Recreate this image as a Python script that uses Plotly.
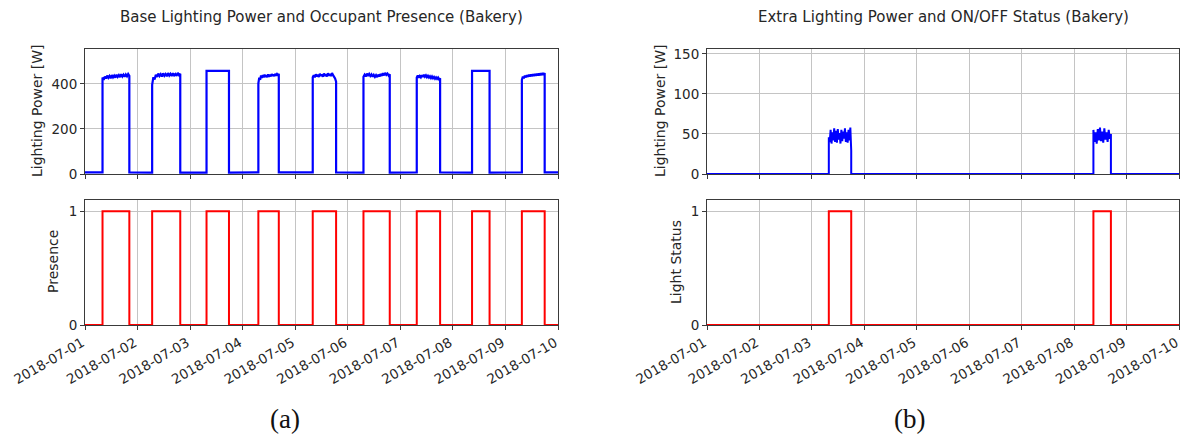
import pandas as pd
import plotly.graph_objects as go

# ---------------- data ----------------
day_labels = ["2018-07-01", "2018-07-02", "2018-07-03", "2018-07-04", "2018-07-05",
              "2018-07-06", "2018-07-07", "2018-07-08", "2018-07-09", "2018-07-10"]
days = day_labels[:9]

# base lighting / presence on-off times per day
base_on = ["08:00", "06:40", "07:30", "07:10", "08:00", "07:10", "07:30", "08:45", "07:30"]
base_off = ["20:15", "19:30", "17:45", "16:30", "18:40", "19:10", "18:10", "16:45", "17:55"]
base_idle_w = [7, 6, 6, 7, 7, 6, 7, 6, 7]
base_on_w = [
    [428, 418, 432, 424, 437, 427, 435, 425, 439, 429, 437, 428, 441, 431, 439, 430, 443, 433, 441, 432, 442, 434, 444, 436],
    [396, 430, 420, 441, 431, 446, 435, 443, 433, 447, 436, 444, 434, 448, 437, 445, 435, 447, 438, 444, 436, 449, 439, 445],
    [458, 458],
    [403, 428, 418, 437, 427, 439, 429, 441, 431, 438, 430, 442, 432, 441, 433, 444, 435, 442, 434, 445, 436, 443, 437, 445],
    [430, 439, 429, 443, 433, 441, 431, 445, 435, 442, 432, 446, 436, 443, 433, 447, 437, 444, 435, 448, 439, 432, 424, 410],
    [432, 441, 433, 446, 436, 444, 435, 442, 432, 440, 431, 439, 430, 441, 433, 444, 436, 447, 438, 449, 440, 446, 437, 443],
    [428, 437, 428, 435, 429, 439, 431, 441, 432, 438, 430, 436, 428, 434, 426, 433, 425, 431, 423, 429, 422, 428, 420, 425],
    [458, 458],
    [418, 432, 425, 437, 429, 439, 431, 441, 433, 442, 434, 443, 435, 444, 436, 445, 437, 446, 438, 447, 439, 448, 440, 448],
]
presence_on = ["08:00", "06:40", "07:30", "07:10", "08:00", "07:10", "07:30", "08:45", "07:30"]
presence_off = ["20:15", "19:30", "17:45", "16:30", "18:40", "19:10", "18:10", "16:45", "17:55"]

# extra lighting / status
extra_days = ["2018-07-03", "2018-07-08"]
extra_on = ["07:45", "08:50"]
extra_off = ["18:00", "16:50"]
extra_on_w = [
    [46, 40, 55, 38, 52, 42, 57, 40, 54, 39, 56, 43, 51, 38, 55, 41, 53, 44, 57, 40, 52, 39, 55, 42, 58, 29],
    [55, 40, 52, 38, 56, 42, 58, 41, 53, 39, 57, 43, 52, 40, 55, 44, 50],
]
status_on = ["07:45", "08:50"]
status_off = ["18:00", "16:50"]

x_start = "2018-07-01"
x_end = "2018-07-10"


def ts(d, t):
    return pd.Timestamp(f"{d} {t}")


# ---------------- build series ----------------
bx, by = [pd.Timestamp(x_start)], [base_idle_w[0]]
for d, on, off, idle, vals in zip(days, base_on, base_off, base_idle_w, base_on_w):
    t_on, t_off = ts(d, on), ts(d, off)
    bx += [t_on]
    by += [idle]
    times = pd.date_range(t_on, t_off, periods=len(vals))
    bx += list(times)
    by += list(vals)
    bx += [t_off]
    by += [idle]
bx += [pd.Timestamp(x_end)]
by += [base_idle_w[-1]]

px_, py_ = [pd.Timestamp(x_start)], [0]
for d, on, off in zip(days, presence_on, presence_off):
    t_on, t_off = ts(d, on), ts(d, off)
    px_ += [t_on, t_on, t_off, t_off]
    py_ += [0, 1, 1, 0]
px_ += [pd.Timestamp(x_end)]
py_ += [0]

ex, ey = [pd.Timestamp(x_start)], [0]
for d, on, off, vals in zip(extra_days, extra_on, extra_off, extra_on_w):
    t_on, t_off = ts(d, on), ts(d, off)
    ex += [t_on]
    ey += [0]
    ex += list(pd.date_range(t_on, t_off, periods=len(vals)))
    ey += list(vals)
    ex += [t_off]
    ey += [0]
ex += [pd.Timestamp(x_end)]
ey += [0]

sx, sy = [pd.Timestamp(x_start)], [0]
for d, on, off in zip(extra_days, status_on, status_off):
    t_on, t_off = ts(d, on), ts(d, off)
    sx += [t_on, t_on, t_off, t_off]
    sy += [0, 1, 1, 0]
sx += [pd.Timestamp(x_end)]
sy += [0]

# ---------------- figure ----------------
W, H = 1184, 441
FONT = "DejaVu Sans"
TXT = "#262626"
GRID = "#c4c4c4"
SPINE = "#3a3a3a"

fig = go.Figure()
fig.add_trace(go.Scatter(x=bx, y=by, mode="lines", line=dict(color="#0000ff", width=2.2), xaxis="x", yaxis="y", showlegend=False))
fig.add_trace(go.Scatter(x=px_, y=py_, mode="lines", line=dict(color="#ff0000", width=2), xaxis="x2", yaxis="y2", showlegend=False))
fig.add_trace(go.Scatter(x=ex, y=ey, mode="lines", line=dict(color="#0000ff", width=2), xaxis="x3", yaxis="y3", showlegend=False))
fig.add_trace(go.Scatter(x=sx, y=sy, mode="lines", line=dict(color="#ff0000", width=2), xaxis="x4", yaxis="y4", showlegend=False))


def px2x(p):
    return p / W


def px2y(p):
    return 1 - p / H


left_dom = [px2x(85), px2x(558)]
right_dom = [px2x(707), px2x(1179)]
top_dom = [px2y(174), px2y(49)]
bot_dom = [px2y(325), px2y(200)]

common_x = dict(
    type="date", range=[x_start, x_end], tickvals=day_labels, ticktext=day_labels,
    showgrid=True, gridcolor=GRID, gridwidth=1, showline=True, linecolor=SPINE, linewidth=1,
    mirror=True, ticks="outside", ticklen=4, tickcolor=SPINE, zeroline=False,
    tickfont=dict(family=FONT, size=13.5, color=TXT), tickangle=-30, automargin=False,
    ticklabeloverflow="allow", ticklabelshift=-3,
)
common_y = dict(
    showgrid=True, gridcolor=GRID, gridwidth=1, showline=True, linecolor=SPINE, linewidth=1,
    mirror=True, ticks="outside", ticklen=4, tickcolor=SPINE, zeroline=False,
    tickfont=dict(family=FONT, size=13.5, color=TXT), automargin=False,
)

fig.update_layout(
    width=W, height=H, margin=dict(l=0, r=0, t=0, b=0),
    paper_bgcolor="white", plot_bgcolor="white",
    xaxis=dict(common_x, domain=left_dom, anchor="y", showticklabels=False),
    yaxis=dict(common_y, domain=top_dom, anchor="x", range=[0, 555], tickvals=[0, 200, 400]),
    xaxis2=dict(common_x, domain=left_dom, anchor="y2"),
    yaxis2=dict(common_y, domain=bot_dom, anchor="x2", range=[0, 1.1], tickvals=[0, 1]),
    xaxis3=dict(common_x, domain=right_dom, anchor="y3", showticklabels=False),
    yaxis3=dict(common_y, domain=top_dom, anchor="x3", range=[0, 156], tickvals=[0, 50, 100, 150]),
    xaxis4=dict(common_x, domain=right_dom, anchor="y4"),
    yaxis4=dict(common_y, domain=bot_dom, anchor="x4", range=[0, 1.1], tickvals=[0, 1]),
)

ann = []
ann.append(dict(text="Base Lighting Power and Occupant Presence (Bakery)", x=px2x(321), y=px2y(17),
                font=dict(family=FONT, size=15, color=TXT)))
ann.append(dict(text="Extra Lighting Power and ON/OFF Status (Bakery)", x=px2x(943), y=px2y(17),
                font=dict(family=FONT, size=15, color=TXT)))
ann.append(dict(text="Lighting Power [W]", x=px2x(37), y=px2y(111), textangle=-90,
                font=dict(family=FONT, size=14, color=TXT)))
ann.append(dict(text="Presence", x=px2x(53), y=px2y(262), textangle=-90,
                font=dict(family=FONT, size=14, color=TXT)))
ann.append(dict(text="Lighting Power [W]", x=px2x(660), y=px2y(111), textangle=-90,
                font=dict(family=FONT, size=14, color=TXT)))
ann.append(dict(text="Light Status", x=px2x(676), y=px2y(262), textangle=-90,
                font=dict(family=FONT, size=14, color=TXT)))
ann.append(dict(text="(a)", x=px2x(285), y=px2y(419),
                font=dict(family="Liberation Serif", size=27, color="#111")))
ann.append(dict(text="(b)", x=px2x(910), y=px2y(419),
                font=dict(family="Liberation Serif", size=27, color="#111")))
for a in ann:
    a.update(xref="paper", yref="paper", showarrow=False, xanchor="center", yanchor="middle")
fig.update_layout(annotations=ann)

fig.write_html("out.html")
